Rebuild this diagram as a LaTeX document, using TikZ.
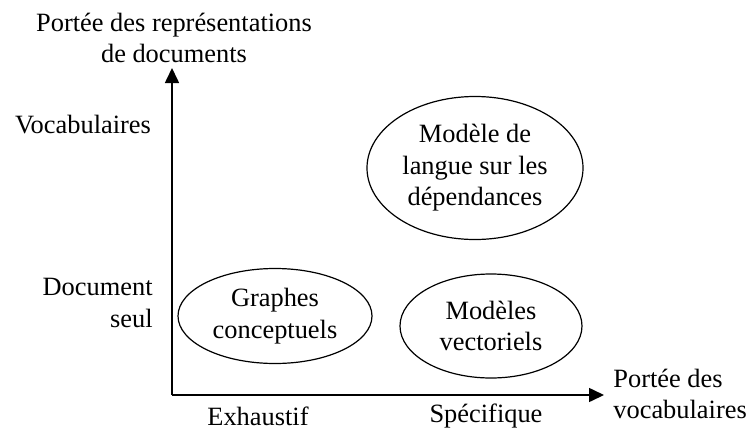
\documentclass[tikz,border=0pt]{standalone}
\usepackage{fontspec}
\setmainfont{Liberation Serif}
\usetikzlibrary{arrows.meta,shapes.geometric}

\begin{document}
\begin{tikzpicture}[x=0.5pt,y=-0.5pt,
    every node/.style={font=\fontsize{13.2}{15.8}\selectfont, align=center},
    zone/.style={ellipse, draw, line width=0.6pt, inner sep=0pt},
    axis/.style={line width=0.8pt, -{Triangle[length=7.5pt,width=7pt]}}]
    \useasboundingbox (0,0) rectangle (750,434);

    % Draw axes
    \coordinate (O) at (172,395);
    \coordinate (ytip) at (172,68);
    \coordinate (xtip) at (604,395);
    \draw[axis] (O) -- (ytip); % vertical axis
    \draw[axis] (O) -- (xtip); % horizontal axis

    % Axis titles
    \node (ylabel) at (174,38) {Port\'ee des repr\'esentations\\de documents};
    \node[anchor=west, align=left, inner sep=0pt] (xlabel) at (613,394) {Port\'ee des\\vocabulaires};

    % Ticks on the vertical axis
    \node (vocab) at (83,125) {Vocabulaires};
    \node[anchor=east, align=right, inner sep=0pt] (docseul) at (153,303) {Document\\seul};

    % Ticks on the horizontal axis
    \node (exhaust) at (258,416) {Exhaustif};
    \node (specif) at (486,416) {Sp\'ecifique};

    % Models
    \node[zone, minimum width=108pt, minimum height=71.5pt] (langue) at (475,168) {Mod\`ele de\\langue sur les\\d\'ependances};
    \node[zone, minimum width=97pt, minimum height=47.5pt] (graphes) at (275,316) {Graphes\\conceptuels};
    \node[zone, minimum width=91pt, minimum height=52pt] (vecto) at (491,326) {Mod\`eles\\vectoriels};
\end{tikzpicture}
\end{document}
